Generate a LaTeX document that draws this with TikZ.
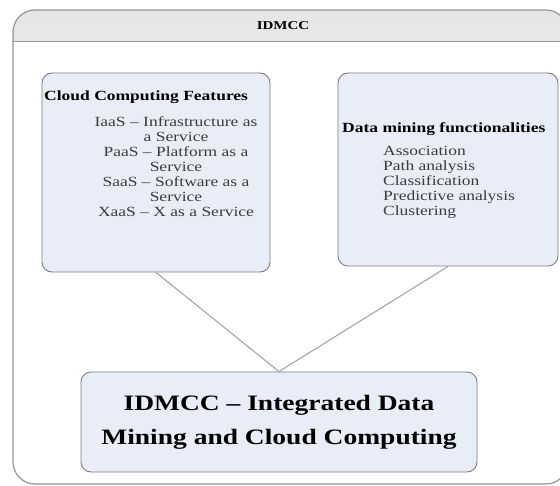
\documentclass[tikz,border=0pt]{standalone}
\usepackage{fontspec}
\setmainfont{Liberation Serif}[FakeStretch=1.25]
\definecolor{panelfill}{RGB}{233,237,248}
\definecolor{panelline}{RGB}{125,125,132}
\definecolor{frameline}{RGB}{150,150,150}
\definecolor{itemtext}{RGB}{60,60,60}
\tikzset{
  frame/.style={draw=frameline, line width=1.2pt, rounded corners=22pt},
  panel/.style={draw=panelline, line width=0.9pt, fill=panelfill, rounded corners=10pt, inner sep=0pt},
  headtext/.style={font=\bfseries\fontsize{14}{16}\selectfont, inner sep=0pt},
  itemlist/.style={font=\fontsize{14}{15}\selectfont, text=itemtext, inner sep=0pt},
  link/.style={draw=gray!75, line width=1pt}
}
\begin{document}
\begin{tikzpicture}[x=1pt, y=-1pt]
\useasboundingbox (0,0) rectangle (560,486);
% outer frame with its shaded title band
\begin{scope}
  \clip[rounded corners=22pt] (13,10) rectangle (568,484);
  \fill[white] (13,10) rectangle (568,484);
  \shade[top color=gray!20, middle color=white, bottom color=gray!18] (13,10) rectangle (568,42);
  \draw[frameline, line width=1pt] (13,42) -- (568,42);
\end{scope}
\draw[frame] (13,10) rectangle (568,484);
\node[font=\bfseries\fontsize{12}{14}\selectfont, inner sep=0pt, anchor=base] (title) at (283,30) {IDMCC};

% three panels
\node[panel, minimum width=228pt, minimum height=199pt] (cc) at (156,172.5) {};
\node[panel, minimum width=220pt, minimum height=193pt] (dm) at (448,169.5) {};
\node[panel, minimum width=396pt, minimum height=100pt] (core) at (279,422) {};

% connectors from the two feature panels to the integrated panel
\draw[link] (cc.south) -- (core.north) -- (dm.south);

% cloud computing panel text
\node[headtext, anchor=base west] (cchead) at (44,101) {Cloud Computing Features};
\node[itemlist, align=center, anchor=north] (cclist) at (176,116) {%
  IaaS – Infrastructure as\\ a Service\\
  PaaS – Platform as a\\ Service\\
  SaaS – Software as a\\ Service\\
  XaaS – X as a Service};

% data mining panel text
\node[headtext, anchor=base west] (dmhead) at (342,133) {Data mining functionalities};
\node[itemlist, align=left, anchor=north west] (dmlist) at (383,146) {%
  Association\\ Path analysis\\ Classification\\ Predictive analysis\\ Clustering};

% integrated panel text
\node[font=\bfseries\fontsize{22}{34}\selectfont, align=center, inner sep=0pt] (coretext) at (core.center)
  {IDMCC – Integrated Data\\ Mining and Cloud Computing};
\end{tikzpicture}
\end{document}
